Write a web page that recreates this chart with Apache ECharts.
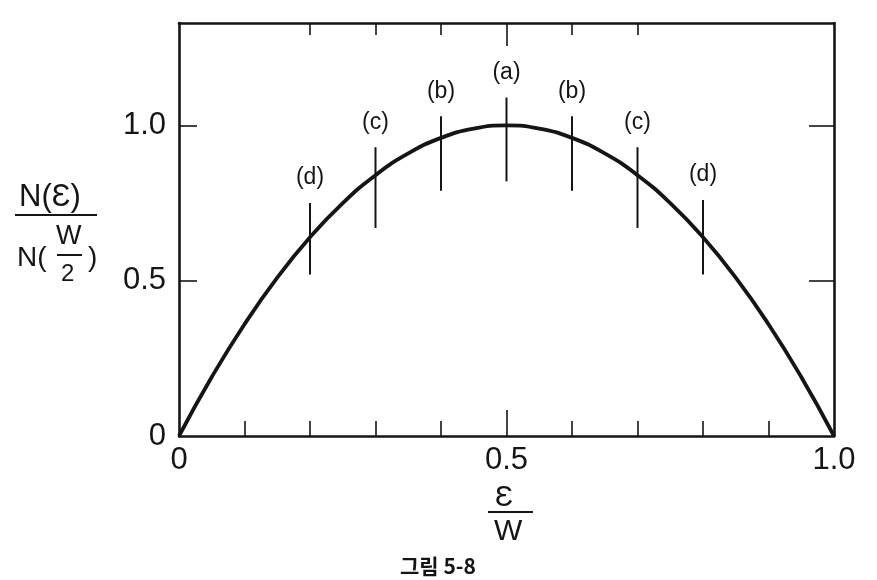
<!DOCTYPE html>
<html>
<head>
<meta charset="utf-8">
<script src="https://cdn.jsdelivr.net/npm/echarts@6/dist/echarts.min.js"></script>
<style>
html,body{margin:0;padding:0;background:#fff;}
#c{width:877px;height:580px;}
</style>
</head>
<body>
<div id="c"></div>
<script>
// ---- data ----
const curveX = [0, 0.05, 0.1, 0.15, 0.2, 0.25, 0.3, 0.35, 0.4, 0.45, 0.5, 0.55, 0.6, 0.65, 0.7, 0.75, 0.8, 0.85, 0.9, 0.95, 1.0];
const curveY = [0, 0.19, 0.36, 0.51, 0.64, 0.75, 0.84, 0.91, 0.96, 0.99, 1.0, 0.99, 0.96, 0.91, 0.84, 0.75, 0.64, 0.51, 0.36, 0.19, 0];
const markerX = [0.2, 0.3, 0.4, 0.5, 0.6, 0.7, 0.8];
const markerLow = [0.52, 0.67, 0.79, 0.82, 0.79, 0.67, 0.52];
const markerHigh = [0.75, 0.93, 1.03, 1.09, 1.03, 0.93, 0.76];
const markerLabels = ['(d)', '(c)', '(b)', '(a)', '(b)', '(c)', '(d)'];
const xTickLabels = [0, 0.5, 1.0];
const yTickLabels = [0, 0.5, 1.0];
const xMinorTicks = [0.1, 0.2, 0.3, 0.4, 0.6, 0.7, 0.8, 0.9];
const topTicks = [0.2, 0.3, 0.4, 0.6, 0.7];
const majorTick = [0.5];
const yTicks = [0.5, 1.0];

const INK = '#151515';
const FONT = '"Liberation Sans", "DejaVu Sans", sans-serif';
const fmt = v => (v === 0 ? '0' : v.toFixed(1));

const chart = echarts.init(document.getElementById('c'), null, {renderer: 'canvas'});

const axisLine = {show: true, onZero: false, lineStyle: {color: INK, width: 2.6}};
const noLine = {show: false, onZero: false};
const tickStyle = {color: INK, width: 1.6};

const option = {
  backgroundColor: '#fff',
  animation: false,
  grid: {left: 179, right: 43, top: 23, bottom: 144},
  xAxis: [
    {
      type: 'value', position: 'bottom', min: 0, max: 1, interval: 0.1,
      axisLine: axisLine,
      axisTick: {show: true, inside: true, length: 15, customValues: xMinorTicks, lineStyle: tickStyle},
      axisLabel: {show: true, customValues: xTickLabels, formatter: fmt, margin: 9,
        fontFamily: FONT, fontSize: 31, color: INK},
      splitLine: {show: false}
    },
    {
      type: 'value', position: 'bottom', min: 0, max: 1,
      axisLine: noLine,
      axisTick: {show: true, inside: true, length: 26, customValues: majorTick, lineStyle: tickStyle},
      axisLabel: {show: false}, splitLine: {show: false}
    },
    {
      type: 'value', position: 'top', min: 0, max: 1,
      axisLine: axisLine,
      axisTick: {show: true, inside: true, length: 12, customValues: topTicks, lineStyle: tickStyle},
      axisLabel: {show: false}, splitLine: {show: false}
    },
    {
      type: 'value', position: 'top', min: 0, max: 1,
      axisLine: noLine,
      axisTick: {show: true, inside: true, length: 23, customValues: majorTick, lineStyle: tickStyle},
      axisLabel: {show: false}, splitLine: {show: false}
    }
  ],
  yAxis: [
    {
      type: 'value', position: 'left', min: 0, max: 1.33, interval: 0.5,
      axisLine: axisLine,
      axisTick: {show: true, inside: true, length: 18, customValues: yTicks, lineStyle: tickStyle},
      axisLabel: {show: true, customValues: yTickLabels, formatter: fmt, margin: 13,
        fontFamily: FONT, fontSize: 31, color: INK},
      splitLine: {show: false}
    },
    {
      type: 'value', position: 'right', min: 0, max: 1.33,
      axisLine: axisLine,
      axisTick: {show: true, inside: true, length: 25, customValues: yTicks, lineStyle: tickStyle},
      axisLabel: {show: false}, splitLine: {show: false}
    }
  ],
  series: [
    {
      type: 'line', xAxisIndex: 0, yAxisIndex: 0,
      data: curveX.map((x, i) => [x, curveY[i]]),
      smooth: true, showSymbol: false, symbol: 'none',
      lineStyle: {color: INK, width: 3.8}, z: 5
    },
    {
      type: 'custom', xAxisIndex: 0, yAxisIndex: 0,
      data: markerX.map((x, i) => [x, markerLow[i], markerHigh[i], i]),
      renderItem: function (params, api) {
        const x = api.value(0);
        const p1 = api.coord([x, api.value(1)]);
        const p2 = api.coord([x, api.value(2)]);
        const lbl = markerLabels[api.value(3)];
        return {
          type: 'group',
          children: [
            {type: 'line', shape: {x1: p1[0], y1: p1[1], x2: p2[0], y2: p2[1]},
              style: {stroke: INK, lineWidth: 2}},
            {type: 'text', x: p2[0], y: p2[1] - 25,
              style: {text: lbl, fill: INK, font: '23px ' + FONT, align: 'center', verticalAlign: 'middle'}}
          ]
        };
      },
      z: 6
    }
  ],
  graphic: [
    // y-axis title: N(Ɛ) / N(W/2)
    {type: 'text', left: 19, top: 182, style: {text: 'N(Ɛ)', font: '31px ' + FONT, fill: INK}},
    {type: 'line', shape: {x1: 15, y1: 215, x2: 97, y2: 215}, style: {stroke: INK, lineWidth: 2}},
    {type: 'text', left: 17, top: 244, style: {text: 'N(', font: '28px ' + FONT, fill: INK}},
    {type: 'text', left: 56, top: 223, style: {text: 'W', font: '27px ' + FONT, fill: INK}},
    {type: 'line', shape: {x1: 57, y1: 255, x2: 82, y2: 255}, style: {stroke: INK, lineWidth: 2}},
    {type: 'text', left: 61, top: 262, style: {text: '2', font: '24px ' + FONT, fill: INK}},
    {type: 'text', left: 88, top: 244, style: {text: ')', font: '28px ' + FONT, fill: INK}},
    // x-axis title: Ɛ / W
    {type: 'text', left: 495, top: 483, style: {text: 'Ɛ', font: '30px ' + FONT, fill: INK}},
    {type: 'line', shape: {x1: 488, y1: 512, x2: 533, y2: 512}, style: {stroke: INK, lineWidth: 2}},
    {type: 'text', left: 494, top: 517, style: {text: 'W', font: '30px ' + FONT, fill: INK}},
    // caption
    {type: 'text', left: 400, top: 556, style: {text: '그림 5-8', font: 'bold 21px "Noto Sans CJK KR", sans-serif', fill: INK}}
  ]
};

chart.setOption(option);
</script>
</body>
</html>
